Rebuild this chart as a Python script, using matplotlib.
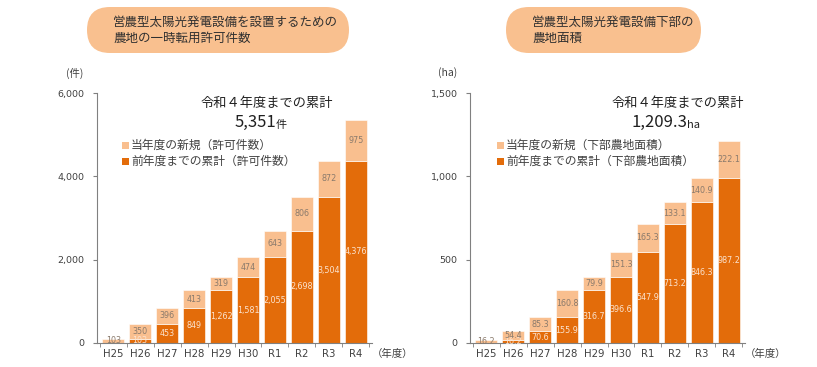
import numpy as np
import matplotlib.pyplot as plt
from matplotlib.patches import FancyBboxPatch

plt.rcParams['font.family'] = ['Noto Sans CJK JP', 'DejaVu Sans']

years = ["H25", "H26", "H27", "H28", "H29", "H30", "R1", "R2", "R3", "R4"]

# 許可件数
cnt_prev = [0, 103, 453, 849, 1262, 1581, 2055, 2698, 3504, 4376]
cnt_new = [103, 350, 396, 413, 319, 474, 643, 806, 872, 975]

# 下部農地面積 (ha)
area_prev = [0, 16.2, 70.6, 155.9, 316.7, 396.6, 547.9, 713.2, 846.3, 987.2]
area_new = [16.2, 54.4, 85.3, 160.8, 79.9, 151.3, 165.3, 133.1, 140.9, 222.1]

DARK = "#E36C0A"
LIGHT = "#F9BF8F"
TXT = "#404040"
NUM = ["DejaVu Sans"]

W, H = 817, 367
fig = plt.figure(figsize=(W / 100, H / 100), dpi=100)

# overlay in pixel coordinates for boxes and free texts
ov = fig.add_axes([0, 0, 1, 1], zorder=-1)
ov.set_xlim(0, W)
ov.set_ylim(H, 0)
ov.axis("off")


def panel(left_px, prev, new, ymax, step, fmt, unit_lbl, legend_lbls, total_txt, total_unit,
          title, title_box, legend_x, total_x):
    ax = fig.add_axes([left_px / W, 1 - 343 / H, 275 / W, 250 / H])
    ax.set_facecolor("none")
    x = np.arange(len(years))
    ax.bar(x, prev, 0.82, color=DARK, edgecolor="white", linewidth=0.4, zorder=2)
    ax.bar(x, new, 0.82, bottom=prev, color=LIGHT, edgecolor="white", linewidth=0.4, zorder=2)
    for i in range(len(years)):
        if prev[i] > 0:
            ax.text(x[i], prev[i] / 2, fmt(prev[i]), ha="center", va="center",
                    fontsize=5.8, color="#FBE3CF", zorder=3, family=NUM)
        ax.text(x[i], prev[i] + new[i] / 2, fmt(new[i]), ha="center", va="center",
                fontsize=5.8, color="#8A7A6C", zorder=3, family=NUM)
    ax.set_xlim(-0.6, len(years) - 0.4)
    ax.set_ylim(0, ymax)
    ticks = np.arange(0, ymax + 1, step)
    ax.set_yticks(ticks)
    ax.set_yticklabels([f"{v:,.0f}" for v in ticks], family=NUM)
    ax.set_xticks(x)
    ax.set_xticklabels(years, family=NUM)
    ax.set_xticks(np.arange(-0.5, len(years), 1), minor=True)
    ax.tick_params(axis="x", which="major", length=0, labelsize=7.3, colors=TXT, pad=4)
    ax.tick_params(axis="x", which="minor", length=3, color="#808080", direction="out")
    ax.tick_params(axis="y", length=3, color="#808080", labelsize=6.8, labelcolor=TXT, pad=6)
    for s in ["top", "right"]:
        ax.spines[s].set_visible(False)
    for s in ["left", "bottom"]:
        ax.spines[s].set_color("#808080")

    ov.text(left_px - 22, 73, unit_lbl, fontsize=7.5, color=TXT, ha="center", va="center")
    ov.text(left_px + 275, 354, "（年度）", fontsize=7.5, color=TXT, ha="left", va="center")

    # legend
    for yy, c, lbl in [(145, LIGHT, legend_lbls[0]), (161, DARK, legend_lbls[1])]:
        ov.add_patch(plt.Rectangle((legend_x, yy - 3.5), 7, 7, facecolor=c, edgecolor="none"))
        ov.text(legend_x + 9, yy, lbl, color=TXT, fontsize=8.5, va="center")

    ov.text(total_x, 103, "令和４年度までの累計", ha="center", va="center",
            fontsize=9.5, color="#202020")
    ov.text(total_x + 9, 122, total_txt, ha="right", va="center",
            fontsize=12, color="#202020")
    ov.text(total_x + 9, 124.5, total_unit, ha="left", va="center",
            fontsize=8, color="#202020")

    bx, by, bw, bh = title_box
    ov.add_patch(FancyBboxPatch((bx, by), bw, bh,
                                boxstyle=f"round,pad=0,rounding_size={bh / 2}",
                                facecolor="#F9C08F", edgecolor="none"))
    ov.text(bx + 26, by + bh / 2, title, ha="left", va="center", fontsize=9,
            color="#303030", linespacing=1.3)
    return ax


panel(97, cnt_prev, cnt_new, 6000, 2000,
      lambda v: f"{v:,.0f}", "(件)",
      ["当年度の新規（許可件数）", "前年度までの累計（許可件数）"],
      "5,351", "件",
      "営農型太陽光発電設備を設置するための\n農地の一時転用許可件数",
      (87, 7, 262, 46), 122, 267)

panel(470, area_prev, area_new, 1500, 500,
      lambda v: f"{v:.1f}", "(ha)",
      ["当年度の新規（下部農地面積）", "前年度までの累計（下部農地面積）"],
      "1,209.3", "ha",
      "営農型太陽光発電設備下部の\n農地面積",
      (506, 7, 195, 46), 497, 678)

fig.savefig("out.png", dpi=100)
